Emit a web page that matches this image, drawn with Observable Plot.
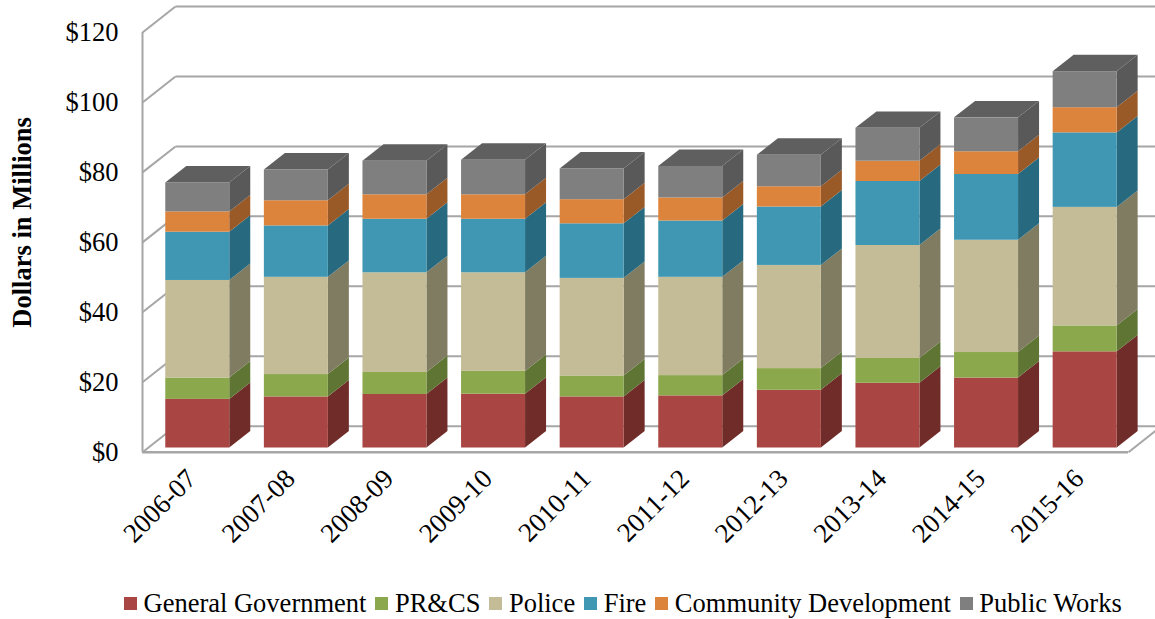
<!DOCTYPE html>
<html>
<head>
<meta charset="utf-8">
<script src="https://cdn.jsdelivr.net/npm/d3@7"></script>
<script src="https://cdn.jsdelivr.net/npm/@observablehq/plot@0.6"></script>
<style>
html,body{margin:0;padding:0;background:#fff;overflow:hidden;width:1155px;height:619px}
#legend{display:flex;align-items:center;height:36px;padding-top:2px;padding-left:124px;font:26.5px "Liberation Serif",serif;color:#000;white-space:nowrap}
#legend .sw{width:13px;height:13px;margin-right:6.5px;flex:none}
#legend .it{display:flex;align-items:center;margin-right:9px}
</style>
</head>
<body>
<div id="chart"></div>
<div id="legend"></div>
<script>
const periods = ["2006-07","2007-08","2008-09","2009-10","2010-11","2011-12","2012-13","2013-14","2014-15","2015-16"];
const seriesNames = ["General Government","PR&CS","Police","Fire","Community Development","Public Works"];
const generalGovernment = [13.9,14.6,15.3,15.4,14.6,14.9,16.5,18.5,20.0,27.5];
const prcs = [6.1,6.4,6.3,6.5,6.0,5.8,6.2,7.1,7.3,7.4];
const police = [27.9,27.8,28.5,28.2,27.9,28.1,29.5,32.3,32.1,33.9];
const fire = [13.8,14.7,15.3,15.3,15.6,16.1,16.7,18.3,18.8,21.3];
const communityDevelopment = [5.8,7.2,7.0,7.0,6.9,6.6,5.8,5.8,6.5,7.2];
const publicWorks = [8.3,8.8,9.6,9.9,8.8,9.0,9.0,9.4,9.7,10.3];
const yTicks = [0,20,40,60,80,100,120];
const frontColors = ["#a94542","#8ca84c","#c4bc96","#4097b3","#dd843c","#7f7f7f"];
const sideColors = ["#6f2c29","#5f7533","#807c62","#276a7f","#995a28","#595959"];
const topColor = "#5f5f5f";
const gridColor = "#a6a6a6";
const serif = '"Liberation Serif", serif';

const values = [generalGovernment, prcs, police, fire, communityDevelopment, publicWorks];
// projection constants for the fake 3D
const wallDx = 0.335, wallDy = 7.43, barDx = 0.213, barDy = 4.7;
const barLeft = 0.236, barW = 0.649, baseLift = 1.2;

const segs = [];
periods.forEach((p, i) => {
  let c = baseLift;
  values.forEach((arr, s) => {
    segs.push({i, s, lo: c, hi: c + arr[i], x1: i + barLeft, x2: i + barLeft + barW});
    c += arr[i];
  });
});
const sidePts = segs.flatMap(d => [
  {k: d.i + "-" + d.s, x: d.x2, y1: d.lo, y2: d.hi, c: sideColors[d.s]},
  {k: d.i + "-" + d.s, x: d.x2 + barDx, y1: d.lo + barDy, y2: d.hi + barDy, c: sideColors[d.s]}
]);
const topPts = segs.filter(d => d.s === 5).flatMap(d => [
  {k: d.i, y: d.hi, x1: d.x1, x2: d.x2},
  {k: d.i, y: d.hi + barDy, x1: d.x1 + barDx, x2: d.x2 + barDx}
]);

const chart = Plot.plot({
  width: 1155, height: 583,
  marginLeft: 142, marginRight: 0, marginTop: 32, marginBottom: 131.3,
  x: {type: "linear", domain: [0, 10.274], axis: null},
  y: {domain: [0, 120], axis: null},
  color: {type: "identity"},
  style: {background: "#fff", overflow: "hidden"},
  marks: [
    // walls and floor
    Plot.link(yTicks, {x1: () => 0, y1: d => d, x2: () => wallDx, y2: d => d + wallDy, stroke: gridColor, strokeWidth: 2}),
    Plot.link(yTicks, {x1: () => wallDx, y1: d => d + wallDy, x2: () => 10 + wallDx, y2: d => d + wallDy, stroke: gridColor, strokeWidth: 2}),
    Plot.link([0], {x1: () => 10, y1: () => 0, x2: () => 10 + wallDx, y2: () => wallDy, stroke: gridColor, strokeWidth: 2}),
    Plot.ruleX([0], {y1: 0, y2: 120, stroke: gridColor, strokeWidth: 2}),
    Plot.ruleY([0], {x1: 0, x2: 10, stroke: gridColor, strokeWidth: 2.4}),
    // bars
    Plot.areaY(sidePts, {x: "x", y1: "y1", y2: "y2", z: "k", fill: "c"}),
    Plot.areaX(topPts, {y: "y", x1: "x1", x2: "x2", z: "k", fill: topColor}),
    Plot.rect(segs, {x1: "x1", x2: "x2", y1: "lo", y2: "hi", fill: d => frontColors[d.s]}),
    // axes and labels
    Plot.axisY({ticks: yTicks, tickSize: 0, tickPadding: 24, tickFormat: d => "$" + d, label: null, fontSize: 26.5, fontFamily: serif, fill: "#000"}),
    Plot.text(periods, {x: (d, i) => i + 0.5, y: () => 0, text: d => d, rotate: -45, textAnchor: "end", dx: 0, dy: 22, fontSize: 27, fontFamily: serif, fill: "#000"}),
    Plot.text(["Dollars in Millions"], {frameAnchor: "left", text: d => d, rotate: -90, textAnchor: "middle", dx: -120, dy: -20, fontSize: 26.5, fontWeight: "bold", fontFamily: serif, fill: "#000"})
  ]
});
document.getElementById("chart").appendChild(chart);
chart.style.display = "block";

const legend = document.getElementById("legend");
seriesNames.forEach((n, i) => {
  const it = document.createElement("div"); it.className = "it";
  const sw = document.createElement("span"); sw.className = "sw"; sw.style.background = frontColors[i];
  const tx = document.createElement("span"); tx.textContent = n;
  it.append(sw, tx); legend.append(it);
});
</script>
</body>
</html>
